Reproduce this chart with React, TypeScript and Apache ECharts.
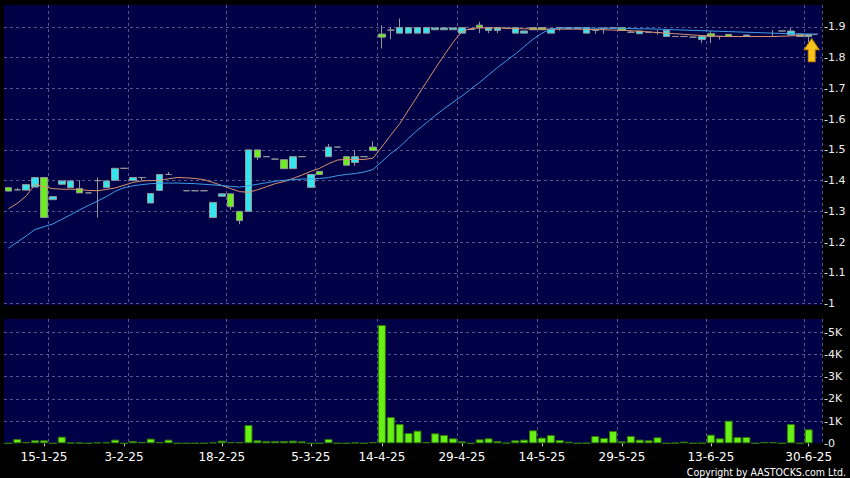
import React, { useEffect, useRef } from 'react';
import * as echarts from 'echarts';

// Trading days (last one is an empty slot at the right edge)
const dates = [
  '9-1-25','10-1-25','13-1-25','14-1-25','15-1-25','16-1-25','17-1-25','20-1-25','21-1-25','22-1-25',
  '23-1-25','24-1-25','27-1-25','3-2-25','4-2-25','5-2-25','6-2-25','7-2-25','10-2-25','11-2-25',
  '12-2-25','13-2-25','14-2-25','17-2-25','18-2-25','19-2-25','20-2-25','21-2-25','24-2-25','25-2-25',
  '26-2-25','27-2-25','28-2-25','4-3-25','5-3-25','6-3-25','7-3-25','10-3-25','11-3-25','12-3-25',
  '13-3-25','14-3-25','14-4-25','15-4-25','16-4-25','17-4-25','22-4-25','23-4-25','24-4-25','25-4-25',
  '28-4-25','29-4-25','30-4-25','2-5-25','6-5-25','7-5-25','8-5-25','9-5-25','12-5-25','13-5-25',
  '14-5-25','15-5-25','16-5-25','19-5-25','20-5-25','21-5-25','22-5-25','26-5-25','28-5-25','29-5-25',
  '30-5-25','2-6-25','3-6-25','4-6-25','5-6-25','6-6-25','9-6-25','10-6-25','11-6-25','13-6-25',
  '16-6-25','17-6-25','18-6-25','19-6-25','20-6-25','23-6-25','24-6-25','25-6-25','26-6-25','27-6-25',
  '30-6-25','2-7-25'
];

const tickLabels = ['15-1-25','3-2-25','18-2-25','5-3-25','14-4-25','29-4-25','14-5-25','29-5-25','13-6-25','30-6-25'];
const gridLineAt = [5, 14, 25, 35, 42, 51, 60, 69, 79, 90];

const opens = [
  1.377,1.370,1.369,1.379,1.410,1.338,1.388,1.377,1.374,1.360,
  1.400,1.377,1.401,1.440,1.400,1.410,1.327,1.368,1.420,null,
  1.367,1.367,1.367,1.280,1.349,1.357,1.300,1.300,1.500,1.478,
  1.470,1.468,1.439,1.478,1.378,1.430,1.478,1.509,1.478,1.459,
  1.478,1.509,1.877,1.890,1.880,1.880,1.880,1.880,1.891,1.891,
  1.891,1.880,1.892,1.906,1.889,1.889,1.896,1.880,1.880,1.898,
  1.898,1.880,1.898,1.895,1.895,1.880,1.889,1.896,1.897,1.898,
  1.883,1.878,1.883,1.882,1.869,1.869,1.869,1.867,1.859,1.878,
  1.869,1.876,1.869,1.869,1.869,1.869,1.869,1.887,1.874,1.876,
  1.869
];
const closes = [
  1.366,1.370,1.387,1.410,1.280,1.348,1.399,1.399,1.360,1.360,
  1.400,1.399,1.440,1.440,1.410,1.410,1.358,1.420,1.420,null,
  1.367,1.367,1.367,1.329,1.357,1.315,1.270,1.500,1.476,1.478,
  1.470,1.439,1.478,1.478,1.420,1.420,1.509,1.509,1.450,1.478,
  1.478,1.498,1.867,1.890,1.898,1.898,1.898,1.898,1.897,1.897,
  1.897,1.898,1.892,1.898,1.898,1.898,1.896,1.898,1.887,1.891,
  1.891,1.893,1.898,1.898,1.898,1.898,1.889,1.896,1.897,1.889,
  1.883,1.887,1.883,1.882,1.889,1.869,1.869,1.867,1.869,1.869,
  1.869,1.869,1.869,1.874,1.869,1.869,1.869,1.887,1.887,1.869,
  1.876
];
const lows = [
  1.366,1.370,1.369,1.379,1.280,1.338,1.388,1.377,1.360,1.360,
  1.280,1.377,1.401,1.440,1.400,1.400,1.327,1.368,1.420,null,
  1.367,1.367,1.367,1.280,1.349,1.305,1.258,1.300,1.467,1.478,
  1.470,1.439,1.439,1.478,1.378,1.420,1.478,1.509,1.450,1.448,
  1.478,1.498,1.830,1.860,1.880,1.880,1.880,1.880,1.891,1.891,
  1.891,1.880,1.892,1.880,1.880,1.880,1.896,1.880,1.880,1.891,
  1.891,1.880,1.888,1.895,1.895,1.880,1.878,1.878,1.897,1.889,
  1.880,1.878,1.883,1.875,1.869,1.869,1.869,1.867,1.848,1.848,
  1.859,1.869,1.869,1.869,1.869,1.869,1.869,1.887,1.874,1.869,
  1.850
];
const highs = [
  1.377,1.376,1.387,1.410,1.410,1.348,1.399,1.399,1.401,1.360,
  1.410,1.399,1.440,1.440,1.410,1.410,1.358,1.420,1.428,null,
  1.367,1.367,1.367,1.329,1.357,1.357,1.300,1.500,1.500,1.478,
  1.470,1.468,1.478,1.478,1.420,1.430,1.519,1.509,1.478,1.500,
  1.478,1.528,1.906,1.900,1.928,1.898,1.898,1.898,1.897,1.897,
  1.897,1.898,1.892,1.917,1.898,1.898,1.896,1.898,1.887,1.898,
  1.898,1.893,1.898,1.898,1.898,1.898,1.889,1.896,1.897,1.898,
  1.889,1.887,1.883,1.890,1.889,1.869,1.869,1.867,1.869,1.887,
  1.869,1.876,1.869,1.874,1.869,1.869,1.890,1.887,1.896,1.876,
  1.876
];

const volumes = [
  0,195,60,135,135,0,300,20,20,0,
  45,45,165,0,105,60,210,60,165,0,
  0,0,0,45,120,60,60,826,135,105,
  105,105,120,90,0,0,195,0,0,30,
  0,60,5330,1186,871,465,570,60,450,375,
  225,90,0,180,225,105,15,135,165,585,
  255,375,150,75,0,15,330,240,555,90,
  330,165,135,270,0,15,75,0,15,390,
  225,1020,285,285,0,60,60,0,870,0,
  630
];

const ma10 = [
  1.308,1.326,1.350,1.388,1.380,1.374,1.372,1.372,1.371,1.368,
  1.367,1.371,1.376,1.385,1.394,1.399,1.400,1.401,1.406,1.410,
  1.409,1.407,1.403,1.394,1.384,1.374,1.364,1.362,1.370,1.380,
  1.390,1.397,1.407,1.418,1.430,1.440,1.455,1.467,1.469,1.469,
  1.469,1.473,1.510,1.548,1.585,1.630,1.675,1.720,1.765,1.808,
  1.850,1.885,1.895,1.897,1.897,1.897,1.896,1.895,1.894,1.894,
  1.893,1.893,1.893,1.893,1.893,1.892,1.892,1.891,1.890,1.889,
  1.888,1.886,1.884,1.882,1.880,1.878,1.876,1.874,1.872,1.871,
  1.870,1.869,1.869,1.869,1.869,1.869,1.869,1.870,1.871,1.873,
  1.874,1.876
];
const ma20 = [
  1.180,1.200,1.220,1.241,1.250,1.259,1.274,1.289,1.305,1.319,
  1.333,1.348,1.365,1.377,1.383,1.387,1.390,1.392,1.392,1.392,
  1.391,1.390,1.388,1.386,1.384,1.381,1.379,1.383,1.388,1.393,
  1.398,1.401,1.403,1.405,1.406,1.407,1.410,1.416,1.420,1.423,
  1.428,1.436,1.462,1.488,1.510,1.538,1.564,1.588,1.612,1.634,
  1.655,1.675,1.698,1.720,1.744,1.768,1.790,1.812,1.836,1.860,
  1.880,1.894,1.896,1.897,1.897,1.897,1.896,1.896,1.896,1.895,
  1.895,1.894,1.894,1.893,1.892,1.891,1.890,1.889,1.888,1.887,
  1.886,1.885,1.884,1.883,1.882,1.881,1.880,1.879,1.878,1.878,
  1.877,1.877
];

const UP = '#36e4ee';
const DOWN = '#6cee1e';
const EDGE = '#979797';
const NAVY = '#000046';
const GRIDLINE = '#56568a';
const FONT = 'DejaVu Sans';

export default function App() {
  const ref = useRef<HTMLDivElement>(null);

  useEffect(() => {
    if (!ref.current) return;
    const chart = echarts.init(ref.current, null, { renderer: 'svg' });

    const candles = dates.map((_, i) =>
      i < opens.length && opens[i] != null
        ? [opens[i], closes[i], lows[i], highs[i]]
        : ['-', '-', '-', '-']
    );
    const labelIdx = new Set(tickLabels.map((d) => dates.indexOf(d)));
    const splitIdx = new Set(gridLineAt);
    const last = opens.length - 1;

    const splitLine = {
      show: true,
      interval: (i: number) => splitIdx.has(i),
      lineStyle: { color: GRIDLINE, type: [3, 3], width: 1 },
    };

    const option: any = {
      animation: false,
      backgroundColor: '#000000',
      grid: [
        { left: 4, top: 5, width: 818, height: 300, show: true, backgroundColor: NAVY, borderWidth: 0 },
        { left: 4, top: 319, width: 818, height: 124.3, show: true, backgroundColor: NAVY, borderWidth: 0 },
      ],
      xAxis: [
        {
          type: 'category', gridIndex: 0, data: dates, boundaryGap: true,
          axisLine: { show: false }, axisTick: { show: false }, axisLabel: { show: false },
          splitLine,
        },
        {
          type: 'category', gridIndex: 1, data: dates, boundaryGap: true, offset: 3,
          axisLine: { show: false },
          axisTick: {
            show: true, alignWithLabel: true, length: 3,
            interval: (i: number) => labelIdx.has(i),
            lineStyle: { color: '#cfcfcf' },
          },
          axisLabel: {
            show: true, interval: (i: number) => labelIdx.has(i),
            color: '#ffffff', fontSize: 12, fontFamily: FONT, margin: 5,
          },
          splitLine,
        },
      ],
      yAxis: [
        {
          type: 'value', gridIndex: 0, position: 'right',
          min: 0.9951, max: 1.9716, splitNumber: 10, minInterval: 0.1, maxInterval: 0.1,
          axisLine: { show: false }, axisTick: { show: false },
          axisLabel: {
            margin: 2, color: '#eeeeee', fontSize: 11, fontFamily: FONT,
            formatter: (v: number) => {
              const r = Math.round(v * 10);
              if (Math.abs(v * 10 - r) > 1e-3) return '';
              return '-' + (r === 10 ? '1' : (r / 10).toFixed(1));
            },
          },
          splitLine: { show: true, showMinLine: false, showMaxLine: false, lineStyle: { color: GRIDLINE, type: [3, 3], width: 1 } },
        },
        {
          type: 'value', gridIndex: 1, position: 'right',
          min: 0, max: 5600, interval: 1000,
          axisLine: { show: false }, axisTick: { show: false },
          axisLabel: {
            margin: 2, color: '#eeeeee', fontSize: 11, fontFamily: FONT,
            formatter: (v: number) => {
              if (v === 0) return '-0';
              if (v % 1000 !== 0) return '';
              return '-' + v / 1000 + 'K';
            },
          },
          splitLine: { show: true, showMinLine: false, showMaxLine: false, lineStyle: { color: GRIDLINE, type: [3, 3], width: 1 } },
        },
      ],
      series: [
        {
          name: 'Price', type: 'candlestick', xAxisIndex: 0, yAxisIndex: 0,
          data: candles, barWidth: 7, clip: false,
          itemStyle: {
            color: UP, color0: DOWN, borderColor: EDGE, borderColor0: EDGE,
            borderColorDoji: EDGE, borderWidth: 1,
          },
          markPoint: {
            silent: true,
            symbol: 'path://M7.5,0 L15,11 L11,11 L11,23 L4,23 L4,11 L0,11 Z',
            symbolSize: [15, 23],
            symbolOffset: [3, 0],
            label: { show: false },
            itemStyle: { color: '#f7c21c', borderColor: '#c98a00', borderWidth: 1 },
            data: [{ coord: [last, 1.8246] }],
          },
        },
        {
          name: 'MA10', type: 'line', xAxisIndex: 0, yAxisIndex: 0, data: ma10,
          symbol: 'none', showSymbol: false, lineStyle: { color: '#d9936c', width: 1 },
        },
        {
          name: 'MA20', type: 'line', xAxisIndex: 0, yAxisIndex: 0, data: ma20,
          symbol: 'none', showSymbol: false, lineStyle: { color: '#3f9de6', width: 1 },
        },
        {
          name: 'Volume', type: 'bar', xAxisIndex: 1, yAxisIndex: 1, data: volumes,
          barWidth: 8,
          itemStyle: { color: '#68f014', borderColor: '#2f7a05', borderWidth: 1 },
        },
      ],
      graphic: [
        {
          type: 'text', x: 846, y: 472, scaleX: 0.86,
          style: {
            text: 'Copyright by AASTOCKS.com Ltd.', fill: '#ffffff',
            font: '11px "DejaVu Sans"', textAlign: 'right', textVerticalAlign: 'middle',
          },
        },
      ],
    };

    chart.setOption(option);
    return () => chart.dispose();
  }, []);

  return (
    <div
      ref={ref}
      style={{ position: 'absolute', left: 0, top: 0, width: 850, height: 478, background: '#000' }}
    />
  );
}
